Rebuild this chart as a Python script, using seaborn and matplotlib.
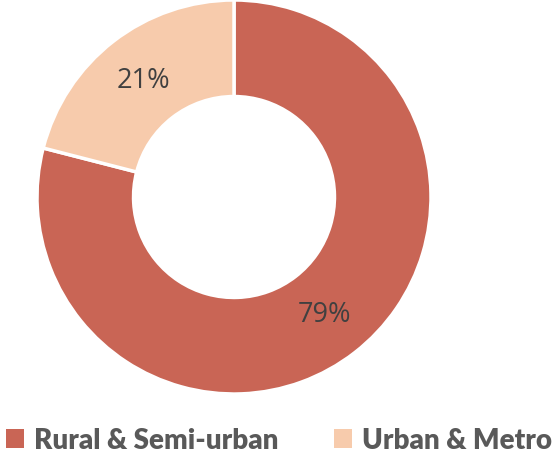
import matplotlib
matplotlib.use("Agg")
import matplotlib.pyplot as plt
import seaborn as sns
import numpy as np
from matplotlib.patches import Patch

categories = ["Rural & Semi-urban", "Urban & Metro"]
values = [79, 21]
labels = ["79%", "21%"]
colors = ["#C96555", "#F7CBAC"]

sns.set_theme(style="white")
plt.rcParams['font.family'] = ['Open Sans', 'DejaVu Sans']

W, H = 558, 460
fig = plt.figure(figsize=(W / 100, H / 100), dpi=100)
cx, cy, r = 234, 198, 197
ax = fig.add_axes([(cx - r) / W, (H - cy - r) / H, 2 * r / W, 2 * r / H])

wedges, _ = ax.pie(values, colors=colors, startangle=90, counterclock=False,
                   radius=1, wedgeprops=dict(width=0.49, edgecolor="white", linewidth=2.5))
start = 90
total = sum(values)
for v, lab in zip(values, labels):
    ang = np.deg2rad(start - v / total * 360 / 2)
    ax.text(0.75 * np.cos(ang), 0.75 * np.sin(ang), lab, ha="center", va="center",
            fontsize=19.5, color="#404040", family="Open Sans", style="normal")
    start -= v / total * 360
ax.set_xlim(-1, 1)
ax.set_ylim(-1, 1)
ax.set_aspect("equal")
ax.axis("off")

handles = [Patch(facecolor=c, edgecolor="none") for c in colors]
leg = fig.legend(handles, categories, loc="center", bbox_to_anchor=(0.5, 1 - 441 / H),
                 ncol=2, frameon=False, handlelength=0.65, handleheight=0.65,
                 handletextpad=0.35, columnspacing=2.0,
                 prop=dict(family='Lato', weight='heavy', style='normal', size=20))
for t in leg.get_texts():
    t.set_color("#595959")

fig.savefig("out.png", dpi=100)
